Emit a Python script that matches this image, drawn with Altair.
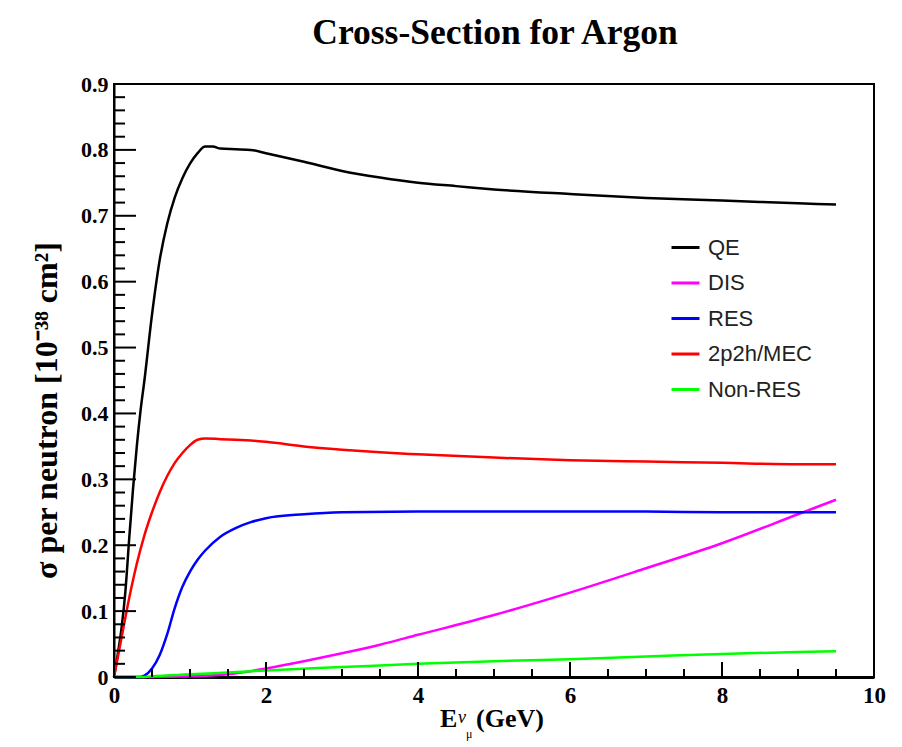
import altair as alt
import pandas as pd

# ---- data ----
qe_x = [0, 0.05, 0.1, 0.15, 0.2, 0.25, 0.3, 0.35, 0.4, 0.5, 0.6, 0.7, 0.8, 0.9, 1.0, 1.1, 1.2, 1.3, 1.4, 1.6, 1.8, 2.0, 2.5, 3.0, 3.5, 4.0, 4.5, 5.0, 6.0, 7.0, 8.0, 9.0, 9.5]
qe_y = [0, 0.035, 0.075, 0.13, 0.21, 0.285, 0.35, 0.405, 0.45, 0.55, 0.632, 0.688, 0.728, 0.757, 0.779, 0.795, 0.805, 0.805, 0.802, 0.801, 0.8, 0.795, 0.782, 0.768, 0.758, 0.75, 0.745, 0.74, 0.733, 0.727, 0.723, 0.719, 0.717]

mec_x = [0, 0.05, 0.1, 0.2, 0.3, 0.4, 0.5, 0.6, 0.7, 0.8, 0.9, 1.0, 1.1, 1.2, 1.4, 1.6, 1.8, 2.0, 2.5, 3.0, 3.5, 4.0, 5.0, 6.0, 7.0, 8.0, 9.0, 9.5]
mec_y = [0, 0.03, 0.06, 0.12, 0.172, 0.215, 0.25, 0.28, 0.305, 0.325, 0.34, 0.352, 0.36, 0.362, 0.361, 0.36, 0.359, 0.357, 0.35, 0.345, 0.341, 0.338, 0.333, 0.329, 0.327, 0.325, 0.323, 0.323]

res_x = [0, 0.35, 0.4, 0.5, 0.6, 0.7, 0.8, 0.9, 1.0, 1.1, 1.2, 1.4, 1.6, 1.8, 2.0, 2.5, 3.0, 4.0, 5.0, 6.0, 7.0, 8.0, 9.0, 9.5]
res_y = [0, 0, 0.002, 0.013, 0.033, 0.065, 0.105, 0.137, 0.16, 0.178, 0.192, 0.213, 0.226, 0.235, 0.241, 0.247, 0.25, 0.251, 0.251, 0.251, 0.251, 0.25, 0.25, 0.25]

dis_x = [0, 0.5, 1.0, 1.5, 2.0, 2.5, 3.0, 3.5, 4.0, 5.0, 6.0, 7.0, 8.0, 9.0, 9.5]
dis_y = [0, 0, 0.001, 0.004, 0.013, 0.024, 0.036, 0.049, 0.064, 0.094, 0.128, 0.165, 0.203, 0.247, 0.269]

nonres_x = [0, 0.4, 0.5, 1.0, 1.5, 2.0, 3.0, 4.0, 5.0, 6.0, 7.0, 8.0, 9.0, 9.5]
nonres_y = [0, 0, 0.001, 0.004, 0.007, 0.01, 0.015, 0.02, 0.024, 0.027, 0.031, 0.035, 0.038, 0.039]

series_names = ["QE", "DIS", "RES", "2p2h/MEC", "Non-RES"]
series_colors = ["#000000", "#ff00ff", "#0000ff", "#ff0000", "#00ff00"]

x_major = [0, 2, 4, 6, 8, 10]
x_minor = [0.5, 1, 1.5, 2.5, 3, 3.5, 4.5, 5, 5.5, 6.5, 7, 7.5, 8.5, 9, 9.5]
y_major = [0, 0.1, 0.2, 0.3, 0.4, 0.5, 0.6, 0.7, 0.8, 0.9]
y_minor = [0.02, 0.04, 0.06, 0.08, 0.12, 0.14, 0.16, 0.18, 0.22, 0.24, 0.26, 0.28,
           0.32, 0.34, 0.36, 0.38, 0.42, 0.44, 0.46, 0.48, 0.52, 0.54, 0.56, 0.58,
           0.62, 0.64, 0.66, 0.68, 0.72, 0.74, 0.76, 0.78, 0.82, 0.84, 0.86, 0.88]

title_text = "Cross-Section for Argon"
y_title = "σ per neutron [10⁻³⁸ cm²]"

# ---- build tables ----
rows = []
for name, xs, ys in [("QE", qe_x, qe_y), ("DIS", dis_x, dis_y), ("RES", res_x, res_y),
                     ("2p2h/MEC", mec_x, mec_y), ("Non-RES", nonres_x, nonres_y)]:
    for i, (a, b) in enumerate(zip(xs, ys)):
        rows.append({"series": name, "E": a, "sigma": b, "i": i})
df = pd.DataFrame(rows)

W, H = 760, 593
SERIF = "Liberation Serif"
SANS = "Liberation Sans"

xscale = alt.Scale(domain=[0, 10], nice=False, zero=False)
yscale = alt.Scale(domain=[0, 0.9], nice=False, zero=False)

lines = alt.Chart(df).mark_line(interpolate="monotone", strokeWidth=2.5).encode(
    x=alt.X("E:Q", scale=xscale,
            axis=alt.Axis(values=x_major, title=None, ticks=False, grid=False,
                          format="d",
                          domain=True, domainColor="black", domainWidth=3,
                          labelFont=SERIF, labelFontWeight="bold", labelFontSize=23,
                          labelColor="black", labelPadding=7, labelFlush=False,
                          labelOverlap=False)),
    y=alt.Y("sigma:Q", scale=yscale,
            axis=alt.Axis(values=y_major, title=y_title, ticks=False, grid=False,
                          domain=True, domainColor="black", domainWidth=2,
                          labelFont=SERIF, labelFontWeight="bold", labelFontSize=22,
                          labelColor="black", labelPadding=6, labelFlush=False,
                          labelOverlap=False,
                          format=".1~f",
                          titleFont=SERIF, titleFontWeight="bold", titleFontSize=32,
                          titleColor="black", titleAngle=-90, titleX=-68, titleY=326,
                          titleAlign="center", titleBaseline="middle")),
    color=alt.Color("series:N",
                    scale=alt.Scale(domain=series_names, range=series_colors),
                    legend=alt.Legend(title=None, orient="none", legendX=556, legendY=148,
                                      symbolType="stroke", symbolStrokeWidth=3,
                                      symbolSize=784, labelFont=SANS, labelFontSize=22,
                                      labelColor="#222222", labelOffset=7, rowPadding=8.5,
                                      labelLimit=300)),
    detail="series:N",
    order="i:Q",
)

# tick marks drawn inside the frame (ROOT style) through the shared scales
ymaj = alt.Chart(pd.DataFrame({"sigma": y_major})).mark_rule(color="black", strokeWidth=2).encode(
    y=alt.Y("sigma:Q", scale=yscale), x=alt.value(0), x2=alt.value(22))
ymin = alt.Chart(pd.DataFrame({"sigma": y_minor})).mark_rule(color="black", strokeWidth=2).encode(
    y=alt.Y("sigma:Q", scale=yscale), x=alt.value(0), x2=alt.value(11))
xmaj = alt.Chart(pd.DataFrame({"E": x_major})).mark_rule(color="black", strokeWidth=2).encode(
    x=alt.X("E:Q", scale=xscale), y=alt.value(H), y2=alt.value(H - 15))
xmin = alt.Chart(pd.DataFrame({"E": x_minor})).mark_rule(color="black", strokeWidth=2).encode(
    x=alt.X("E:Q", scale=xscale), y=alt.value(H), y2=alt.value(H - 8))


def label(txt, px, py, size, weight="bold", align="left", style="normal", font=SERIF):
    return alt.Chart(pd.DataFrame({"t": [txt]})).mark_text(
        font=font, fontSize=size, fontWeight=weight, fontStyle=style, align=align,
        baseline="alphabetic", color="black").encode(
        text="t:N", x=alt.value(px), y=alt.value(py))

# chart title
title_mark = label(title_text, 495 - 114, 44 - 84, 35.5, align="center")
# x-axis title  E_{nu_mu}(GeV)
xt_E = label("E", 440 - 114, 727 - 84, 26)
xt_nu = label("ν", 458 - 114, 723 - 84, 18, weight="normal", style="italic")
xt_mu = label("μ", 466 - 114, 738 - 84, 12, weight="normal")
xt_gev = label("(GeV)", 476 - 114, 727 - 84, 26)

chart = alt.layer(lines, ymin, ymaj, xmin, xmaj, title_mark, xt_E, xt_nu, xt_mu, xt_gev).properties(
    width=W, height=H,
    autosize=alt.AutoSizeParams(type="none"),
    padding={"left": 114, "top": 84, "right": 28, "bottom": 70},
    background="white",
).configure_view(stroke="black", strokeWidth=2)

chart.save("out.html", embed_options={"renderer": "svg", "actions": False})
